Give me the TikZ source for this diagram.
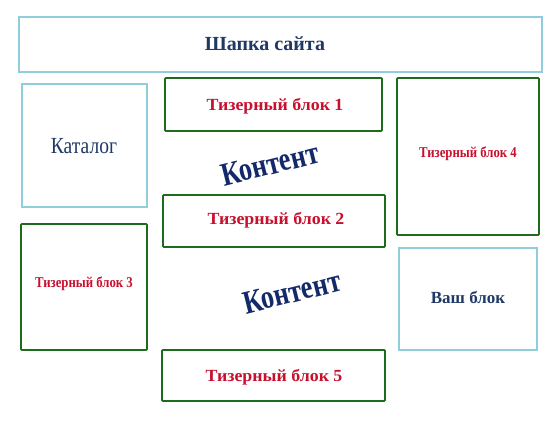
\documentclass[tikz,border=0pt]{standalone}
\usepackage{fontspec}
\setmainfont{Liberation Serif}
\definecolor{hdrblue}{HTML}{1F3864}
\definecolor{tred}{HTML}{C8102E}
\definecolor{tgreen}{HTML}{1E6B1E}
\definecolor{lblue}{HTML}{92CDDC}
\definecolor{navy}{HTML}{14296A}
\begin{document}
\begin{tikzpicture}[x=1pt,y=-1pt,
  lightbox/.style={draw=lblue,line width=1.2pt},
  greenbox/.style={draw=tgreen,line width=1.8pt,rounded corners=0.8pt},
  bluetxt/.style={text=hdrblue,font=\bfseries},
  redtxt/.style={text=tred,font=\bfseries},
  conttxt/.style={text=navy,inner sep=0pt,font=\bfseries\fontsize{33}{33}\selectfont}]
\useasboundingbox (0,0) rectangle (555,423);
\fill[white] (0,0) rectangle (555,423);
\draw[lightbox] (19,17) rectangle (542,72);
\node[bluetxt,font=\bfseries\fontsize{20}{20}\selectfont] (hdr) at (265,44) {Шапка сайта};
\draw[lightbox] (22,84) rectangle (147,207);
\node[text=hdrblue,font=\fontsize{23}{23}\selectfont] (cat) at (84,146) {\scalebox{0.85}[1]{Каталог}};
\draw[greenbox] (165,78) rectangle (382,131);
\node[redtxt,font=\bfseries\fontsize{17}{17}\selectfont] (t1) at (275,106) {\scalebox{1.05}[1]{Тизерный блок 1}};
\draw[greenbox] (397,78) rectangle (539,235);
\node[redtxt,font=\bfseries\fontsize{15}{15}\selectfont] (t4) at (468,154) {\scalebox{0.85}[1]{Тизерный блок 4}};
\draw[greenbox] (163,195) rectangle (385,247);
\node[redtxt,font=\bfseries\fontsize{17}{17}\selectfont] (t2) at (276,220) {\scalebox{1.05}[1]{Тизерный блок 2}};
\draw[greenbox] (21,224) rectangle (147,350);
\node[redtxt,font=\bfseries\fontsize{15}{15}\selectfont] (t3) at (84,284) {\scalebox{0.85}[1]{Тизерный блок 3}};
\draw[lightbox] (399,248) rectangle (537,350);
\node[bluetxt,font=\bfseries\fontsize{17}{17}\selectfont] (vb) at (468,297) {Ваш блок};
\draw[greenbox] (162,350) rectangle (385,401);
\node[redtxt,font=\bfseries\fontsize{17}{17}\selectfont] (t5) at (274,377) {\scalebox{1.05}[1]{Тизерный блок 5}};
\node[conttxt,rotate=14] (c1) at (270,164) {\scalebox{0.8}[1]{Контент}};
\node[conttxt,rotate=14] (c2) at (292,292) {\scalebox{0.8}[1]{Контент}};
\end{tikzpicture}
\end{document}
